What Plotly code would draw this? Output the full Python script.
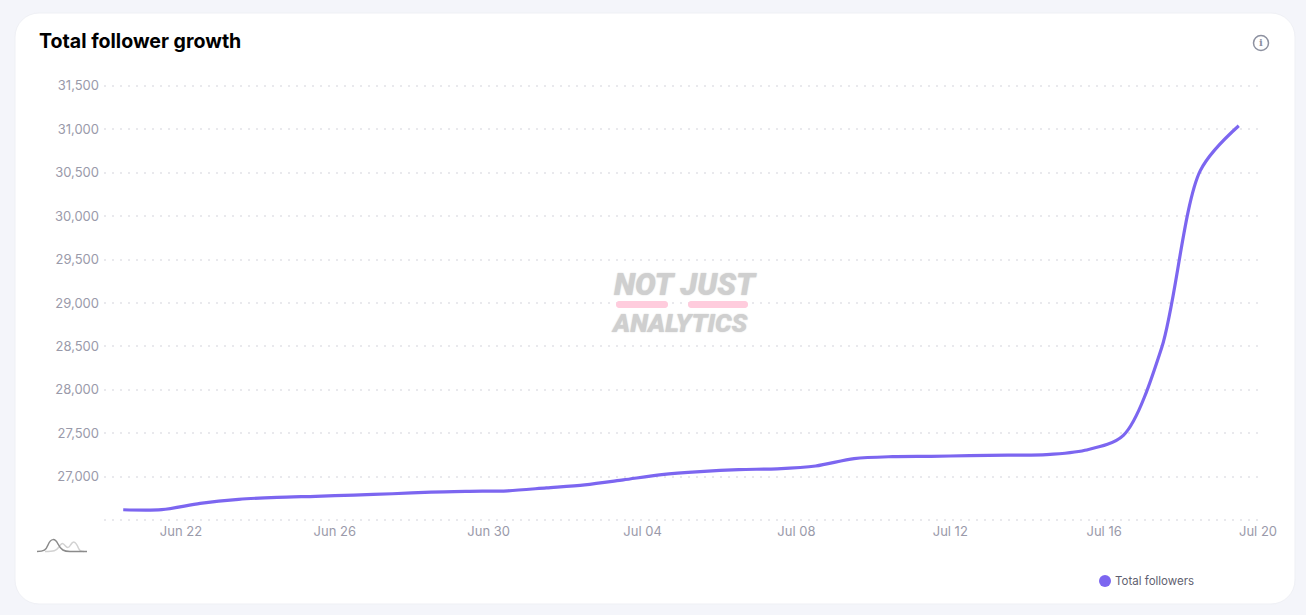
import plotly.graph_objects as go

# Daily follower totals, one reading per day
DAYS = [f"2025-06-{d:02d} 12:00" for d in range(20, 31)] + [f"2025-07-{d:02d} 12:00" for d in range(1, 20)]
FOLLOWERS = [26621, 26622, 26695, 26741, 26764, 26776, 26790, 26805, 26824, 26833,
             26839, 26873, 26908, 26965, 27025, 27060, 27083, 27092, 27124, 27209,
             27232, 27236, 27243, 27250, 27255, 27305, 27477, 28492, 30523, 31040]

Y_TICKS = [26500, 27000, 27500, 28000, 28500, 29000, 29500, 30000, 30500, 31000, 31500]
Y_LABELS = ["", "27,000", "27,500", "28,000", "28,500", "29,000", "29,500", "30,000", "30,500", "31,000", "31,500"]
X_TICKS = ["2025-06-22", "2025-06-26", "2025-06-30", "2025-07-04", "2025-07-08", "2025-07-12", "2025-07-16", "2025-07-20"]
X_LABELS = ["Jun 22", "Jun 26", "Jun 30", "Jul 04", "Jul 08", "Jul 12", "Jul 16", "Jul 20"]
SERIES_NAME = "Total followers"

W, H = 1306, 615
ML, MR, MT, MB = 104, 48, 84, 93
PW, PH = W - ML - MR, H - MT - MB
LINE_COLOR = "#7c66f0"


def px(x):
    return (x - ML) / PW


def py(y):
    return 1 - (y - MT) / PH


def path(*parts):
    # Alternating SVG commands and pixel points, converted to paper coordinates
    out = []
    for p in parts:
        out.append(p if isinstance(p, str) else f"{px(p[0]):.5f},{py(p[1]):.5f}")
    return " ".join(out)


def rounded_rect(x0, y0, x1, y1, r):
    k = r * 0.45
    return path("M", (x0 + r, y0), "L", (x1 - r, y0),
                "C", (x1 - k, y0), (x1, y0 + k), (x1, y0 + r),
                "L", (x1, y1 - r),
                "C", (x1, y1 - k), (x1 - k, y1), (x1 - r, y1),
                "L", (x0 + r, y1),
                "C", (x0 + k, y1), (x0, y1 - k), (x0, y1 - r),
                "L", (x0, y0 + r),
                "C", (x0, y0 + k), (x0 + k, y0), (x0 + r, y0), "Z")


def paper_shape(d, **kw):
    return dict(type="path", xref="paper", yref="paper", path=d, **kw)


TICK_FONT = dict(family="Inter, sans-serif", size=13, color="#9a9aaa")

fig = go.Figure()
fig.add_trace(go.Scatter(
    x=DAYS, y=FOLLOWERS, mode="lines", name=SERIES_NAME, showlegend=False,
    line=dict(color=LINE_COLOR, width=3.2, shape="spline", smoothing=0.85),
))

shapes = [
    # Card
    paper_shape(rounded_rect(15, 13, 1295, 604, 24), fillcolor="#ffffff",
                line=dict(color="#eff0f5", width=1), layer="below"),
    # Info icon ring
    dict(type="circle", xref="paper", yref="paper", x0=px(1253.5), x1=px(1268.5),
         y0=py(50.5), y1=py(35.5), line=dict(color="#8d91a0", width=1.5)),
    # Range-control glyph
    paper_shape(path("M", (45, 551.5), "C", (54, 551.5), (56, 551), (59, 547),
                     "C", (62, 542), (63, 543), (65.5, 546), "C", (67, 548), (69, 548), (70.5, 545),
                     "C", (73, 541), (75, 541), (77.5, 546), "C", (79, 550), (80, 551.5), (84, 551.5)),
                line=dict(color="#d2d2d2", width=1.5)),
    paper_shape(path("M", (37, 551.5), "C", (44, 551.5), (46, 550), (48, 545),
                     "C", (51, 538), (55, 538), (58, 544), "C", (61, 550), (64, 551.5), (70, 551.5), "L", (87, 551.5)),
                line=dict(color="#8b8b8b", width=1.5)),
    # Logo underline, split around the J
    paper_shape(rounded_rect(616, 301, 668, 308, 3), fillcolor="#ffccdd", line=dict(width=0)),
    paper_shape(rounded_rect(688, 301, 748, 308, 3), fillcolor="#ffccdd", line=dict(width=0)),
    # Legend dot
    dict(type="circle", xref="paper", yref="paper", x0=px(1099), x1=px(1111),
         y0=py(587), y1=py(575), fillcolor=LINE_COLOR, line=dict(width=0)),
]

LOGO_FONT = dict(family="Roboto, sans-serif", color="#cfcfcf",
                 weight=900, style="italic", shadow="0 0 1.5px #cfcfcf")
annotations = [
    dict(text="NOT JUST", x=px(685), y=py(284), font=dict(size=31, **LOGO_FONT)),
    dict(text="ANALYTICS", x=px(679), y=py(323), font=dict(size=26, **LOGO_FONT)),
    dict(text="i", x=px(1261), y=py(43), font=dict(family="DejaVu Serif, serif", size=10, color="#8d91a0", weight=700)),
    dict(text=SERIES_NAME, x=px(1113), y=py(581), xanchor="left",
         font=dict(family="Inter, sans-serif", size=11.5, color="#5f5f70")),
]
for a in annotations:
    a.setdefault("xanchor", "center")
    a.update(xref="paper", yref="paper", showarrow=False, yanchor="middle")

fig.update_layout(
    width=W, height=H, autosize=False,
    margin=dict(l=ML, r=MR, t=MT, b=MB),
    paper_bgcolor="#f4f5fa", plot_bgcolor="rgba(0,0,0,0)",
    title=dict(text="<b>Total follower growth</b>", x=39 / W, xanchor="left", xref="container",
               y=1 - 41 / H, yanchor="middle", yref="container",
               font=dict(family="Inter, sans-serif", size=19.6, color="#000000")),
    xaxis=dict(type="date", range=["2025-06-20", "2025-07-20"], tickmode="array",
               tickvals=X_TICKS, ticktext=X_LABELS, showgrid=False, zeroline=False,
               showline=False, ticks="", tickfont=TICK_FONT, tickangle=0),
    yaxis=dict(range=[26480, 31520], tickmode="array", tickvals=Y_TICKS, ticktext=Y_LABELS,
               showgrid=True, gridcolor="#e9e9ed", gridwidth=2, griddash="2px,6px",
               zeroline=False, showline=False, ticks="", tickfont=TICK_FONT, ticklabelstandoff=4),
    showlegend=False,
    shapes=shapes, annotations=annotations, hovermode="x",
)

fig.write_html("out.html", config=dict(displayModeBar=False))
